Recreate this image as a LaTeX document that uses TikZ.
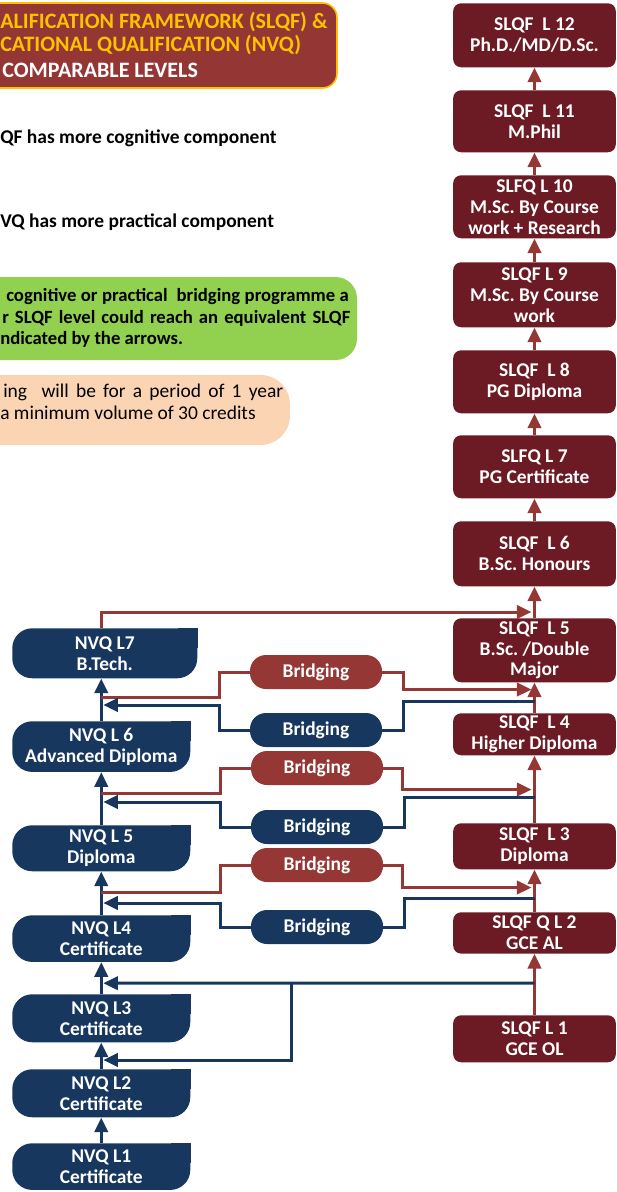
\documentclass[tikz,border=0pt]{standalone}
\usepackage{fontspec}
\setmainfont{Carlito}
\usetikzlibrary{arrows.meta,calc,positioning}

\definecolor{slqfred}{HTML}{6C1A23}
\definecolor{linered}{HTML}{953735}
\definecolor{nvqblue}{HTML}{17375E}
\definecolor{titlered}{HTML}{943634}
\definecolor{titlegold}{HTML}{FFC000}
\definecolor{notegreen}{HTML}{92D050}
\definecolor{notepeach}{HTML}{FBD4B4}

\newcommand{\boxfont}{\fontsize{14.6}{15.7}\selectfont\bfseries\frenchspacing}

\begin{document}
\begin{tikzpicture}[x=0.75pt, y=-0.75pt,
	every node/.style={font=\boxfont, text=white, align=center, inner sep=1pt},
	slqf/.style={fill=slqfred, rounded corners=6pt, minimum width=122pt, anchor=north},
	nvq/.style={fill=nvqblue, rounded corners=15pt, minimum width=133.5pt, anchor=north west},
	bridge/.style={rounded corners=12pt, minimum width=99pt, minimum height=25.5pt},
	redline/.style={draw=linered, line width=2.25pt},
	blueline/.style={draw=nvqblue, line width=2.25pt},
	headed/.style={-{Triangle[length=11pt,width=10pt]}},
	note/.style={text=black, anchor=west, inner sep=0pt, align=left}]
	
	\useasboundingbox (0,0) rectangle (617,1192);
	\clip (0,0) rectangle (617,1192);
	
	%title and notes
	\fill[titlered, draw=titlegold, line width=1.2pt, rounded corners=11pt] (-20,3) rectangle (337,88);
	\fill[notegreen, rounded corners=16pt] (-30,277) rectangle (357,360);
	\fill[notepeach, rounded corners=22pt] (-30,375) rectangle (290,445);
	\node[note, text=titlegold, font=\fontsize{16.5}{18}\selectfont\bfseries] (t1) at (0,22) {ALIFICATION FRAMEWORK (SLQF) \&};
	\node[note, text=titlegold, font=\fontsize{16.5}{18}\selectfont\bfseries] (t2) at (0,45) {CATIONAL QUALIFICATION (NVQ)};
	\node[note, text=white, font=\fontsize{16.5}{18}\selectfont\bfseries] (t3) at (2,70) {COMPARABLE LEVELS};
	\node[note] (c1) at (0,138) {QF has more cognitive component};
	\node[note] (c2) at (0,222) {VQ has more practical component};
	\node[note, font=\fontsize{14}{16}\selectfont\bfseries] (g1) at (6,297) {\makebox[257pt][s]{cognitive or practical\ \ bridging programme a}};
	\node[note, font=\fontsize{14}{16}\selectfont\bfseries] (g2) at (2,318) {\makebox[261pt][s]{r SLQF level could reach an equivalent SLQF}};
	\node[note, font=\fontsize{14}{16}\selectfont\bfseries] (g3) at (0,339) {ndicated by the arrows.};
	\node[note, font=\fontsize{14.6}{16}\selectfont] (p1) at (3,392) {\makebox[210pt][s]{ing\ \ will be for a period of 1 year}};
	\node[note, font=\fontsize{14.6}{16}\selectfont] (p2) at (0,413) {a minimum volume of 30 credits};
	
	%SLQF levels
	\node[slqf, minimum height=48pt] (s12) at (534.5,3) {SLQF\ \ L 12\\Ph.D./MD/D.Sc.};
	\node[slqf, minimum height=46.5pt] (s11) at (534.5,90) {SLQF\ \ L 11\\M.Phil};
	\node[slqf, minimum height=47.25pt] (s10) at (534.5,175) {SLFQ L 10\\M.Sc. By Course\\work + Research};
	\node[slqf, minimum height=48.75pt] (s9) at (534.5,262) {SLQF L 9\\M.Sc. By Course\\work};
	\node[slqf, minimum height=47.25pt] (s8) at (534.5,350) {SLQF\ \ L 8\\PG Diploma};
	\node[slqf, minimum height=47.25pt] (s7) at (534.5,435) {SLFQ L 7\\PG Certificate};
	\node[slqf, minimum height=48.75pt] (s6) at (534.5,521) {SLQF\ \ L 6\\B.Sc. Honours};
	\node[slqf, minimum height=48pt] (s5) at (534.5,618) {SLQF\ \ L 5\\B.Sc. /Double\\Major};
	\node[slqf, minimum height=31.5pt] (s4) at (534.5,713) {SLQF\ \ L 4\\Higher Diploma};
	\node[slqf, minimum height=34.5pt] (s3) at (534.5,823) {SLQF\ \ L 3\\Diploma};
	\node[slqf, minimum height=31pt] (s2) at (534.5,912) {SLQF Q L 2\\GCE AL};
	\node[slqf, minimum height=35.25pt] (s1) at (534.5,1015) {SLQF L 1\\GCE OL};
	
	%NVQ levels
	\node[nvq, minimum width=138.75pt, minimum height=37.5pt] (n7) at (12,628) {NVQ L7\\B.Tech.};
	\node[nvq, minimum height=38pt] (n6) at (12,721) {NVQ L 6\\Advanced Diploma};
	\node[nvq, minimum height=34.5pt] (n5) at (12,825) {NVQ L 5\\Diploma};
	\node[nvq, minimum height=35pt] (n4) at (12,915) {NVQ L4\\Certificate};
	\node[nvq, minimum height=36pt] (n3) at (12,994) {NVQ L3\\Certificate};
	\node[nvq, minimum height=36pt] (n2) at (12,1069) {NVQ L2\\Certificate};
	\node[nvq, minimum height=35pt] (n1) at (12,1143) {NVQ L1\\Certificate};
	\foreach \n in {n1,n2,n3,n4,n5,n6,n7}
		\fill[nvqblue] (\n.north east) rectangle ([shift={(-15pt,-15pt)}]\n.north east);
	
	%bridging programmes
	\node[bridge, fill=linered] (rb1) at (316,672) {Bridging};
	\node[bridge, fill=nvqblue] (bb1) at (316,730) {Bridging};
	\node[bridge, fill=linered] (rb2) at (317,768) {Bridging};
	\node[bridge, fill=nvqblue] (bb2) at (317,827) {Bridging};
	\node[bridge, fill=linered] (rb3) at (317,865) {Bridging};
	\node[bridge, fill=nvqblue] (bb3) at (317,927) {Bridging};
	
	%level to level
	\foreach \a/\b in {s1/s2,s2/s3,s3/s4,s4/s5,s5/s6,s6/s7,s7/s8,s8/s9,s9/s10,s10/s11,s11/s12}
		\draw[redline, headed] (\a.north) -- (\b.south);
	\foreach \a/\b in {n1/n2,n2/n3,n3/n4,n4/n5,n5/n6,n6/n7}
		\draw[blueline, headed] (\a.north) -- (\a.north |- \b.south);
	
	%bridging paths
	\coordinate (r1) at ($(n6.north)+(0,-24)$);
	\coordinate (r2) at ($(n5.north)+(0,-32)$);
	\coordinate (r3) at ($(n4.north)+(0,-23)$);
	\coordinate (b1) at ($(s4.north)+(0,-12)$);
	\coordinate (b2) at ($(s3.north)+(0,-26)$);
	\coordinate (b3) at ($(s2.north)+(0,-14)$);
	\coordinate (b4) at ($(s1.north)+(0,-32)$);
	\coordinate (fork) at (291,983);
	
	\draw[redline] (r1) -| ($(rb1.west)+(-30,0)$) -- (rb1.west);
	\draw[redline, headed] (rb1.east) -- ++(21,0) |- ($(s5.south)+(-3,7)$);
	\draw[blueline] (b1) -| ($(bb1.east)+(21,0)$) -- (bb1.east);
	\draw[blueline, headed] (bb1.west) -- ++(-30,0) |- ($(n6.north)+(2,-16)$);
	
	\draw[redline] (r2) -| ($(rb2.west)+(-30,0)$) -- (rb2.west);
	\draw[redline, headed] (rb2.east) -- ++(19,0) |- ($(s4.south)+(-3,34)$);
	\draw[blueline] (b2) -| ($(bb2.east)+(21,0)$) -- (bb2.east);
	\draw[blueline, headed] (bb2.west) -- ++(-30,0) |- ($(n5.north)+(2,-23)$);
	
	\draw[redline] (r3) -| ($(rb3.west)+(-30,0)$) -- (rb3.west);
	\draw[redline, headed] (rb3.east) -- ++(19,0) |- ($(s3.south)+(-3,18)$);
	\draw[blueline] (b3) -| ($(bb3.east)+(21,0)$) -- (bb3.east);
	\draw[blueline, headed] (bb3.west) -- ++(-30,0) |- ($(n4.north)+(2,-12)$);
	
	\draw[blueline, headed] (b4) -- ($(n4.south)+(2,21)$);
	\draw[blueline, headed] (fork) |- ($(n2.north)+(2,-9)$);
	
	\draw[redline, headed] (n6.north |- n7.north) |- ($(s5.north)+(-3,-6)$);
\end{tikzpicture}
\end{document}
